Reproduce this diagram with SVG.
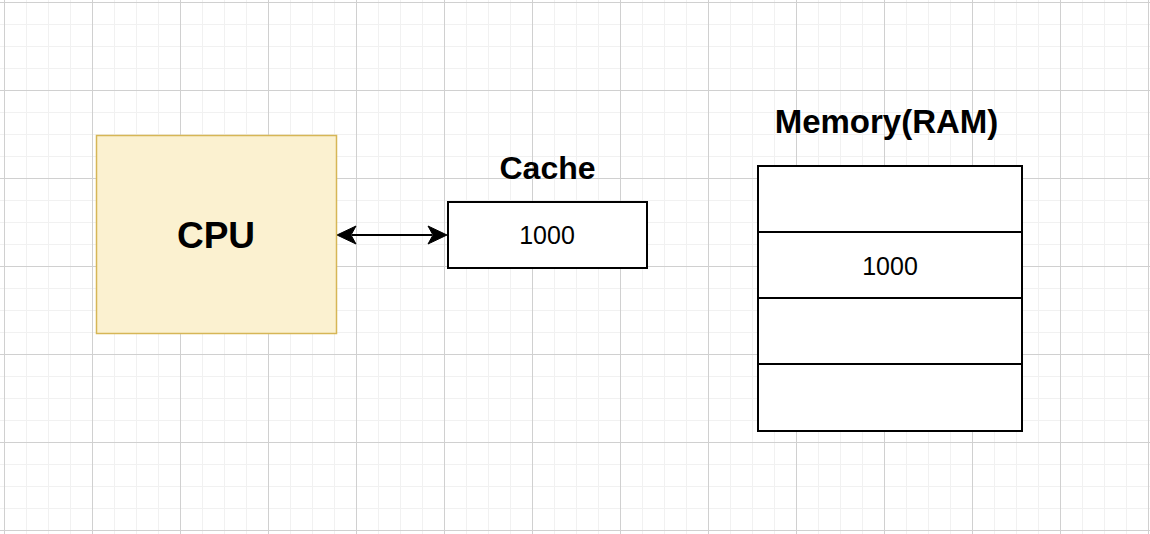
<svg xmlns="http://www.w3.org/2000/svg" width="1150" height="534" viewBox="0 0 1150 534">
  <style>
    .lbl { font-family: "Liberation Sans", Arial, Helvetica, sans-serif; fill: #000; text-anchor: middle; }
    .title { font-weight: bold; }
    .box { fill: #ffffff; stroke: #000000; stroke-width: 2; }
    .conn { stroke: #000000; stroke-width: 2; fill: none; }
    .head { fill: #000000; stroke: #000000; stroke-width: 1; }
  </style>
  <defs>
    <pattern id="minor" x="4" y="2" width="22" height="22" patternUnits="userSpaceOnUse">
      <path d="M0 0.5 H22 M0.5 0 V22" stroke="#f1f1f1" stroke-width="1" fill="none"/>
    </pattern>
    <pattern id="major" x="4" y="2" width="88" height="88" patternUnits="userSpaceOnUse">
      <path d="M0 0.5 H88 M0.5 0 V88" stroke="#d0d0d0" stroke-width="1" fill="none"/>
    </pattern>
  </defs>

  <g id="background">
    <rect x="0" y="0" width="1150" height="534" fill="#ffffff"/>
    <rect x="0" y="0" width="1150" height="534" fill="url(#minor)"/>
    <rect x="0" y="0" width="1150" height="534" fill="url(#major)"/>
  </g>

  <g id="connectors">
    <path class="conn" d="M352 235 H432"/>
    <path class="head" d="M337 235 L356 226 L351 235 L356 244 Z"/>
    <path class="head" d="M447 235 L428 226 L433 235 L428 244 Z"/>
  </g>

  <g id="cpu">
    <rect x="96.5" y="135.5" width="240" height="198" fill="#fbf1d0" stroke="#d6b656" stroke-width="1.5"/>
    <text class="lbl title" x="216" y="247.5" font-size="37">CPU</text>
  </g>

  <g id="cache">
    <text class="lbl title" x="547.5" y="179" font-size="32">Cache</text>
    <rect class="box" x="448" y="202" width="199" height="66"/>
    <text class="lbl" x="547" y="243.5" font-size="25">1000</text>
  </g>

  <g id="memory">
    <text class="lbl title" x="886.5" y="133" font-size="33">Memory(RAM)</text>
    <rect class="box" x="758" y="166" width="264" height="66"/>
    <rect class="box" x="758" y="232" width="264" height="66"/>
    <text class="lbl" x="890" y="275" font-size="25">1000</text>
    <rect class="box" x="758" y="298" width="264" height="66"/>
    <rect class="box" x="758" y="364" width="264" height="67"/>
  </g>
</svg>
